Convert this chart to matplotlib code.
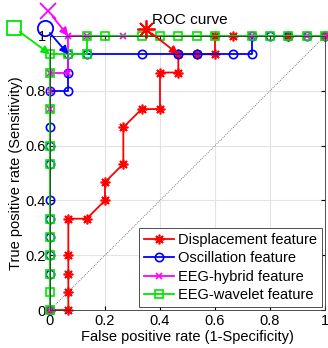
import numpy as np
import matplotlib.pyplot as plt

plt.rcParams['font.family'] = ['Liberation Sans', 'DejaVu Sans']

n = 15.0

# ROC points (counts out of 15 negatives / 15 positives)
disp_fp = [0, 1, 1, 1, 1, 1, 2, 3, 3, 4, 4, 5, 6, 6, 7, 7, 8, 9, 9, 10, 13, 15]
disp_tp = [0, 0, 1, 2, 3, 5, 5, 6, 7, 8, 10, 11, 11, 13, 13, 14, 14, 14, 15, 15, 15, 15]

osc_fp = [0, 0, 0, 0, 0, 0, 0, 0, 0, 0, 1, 1, 1, 2, 5, 7, 8, 10, 11, 11, 12, 13, 14, 15]
osc_tp = [0, 2, 3, 4, 5, 6, 8, 9, 10, 12, 12, 13, 14, 14, 14, 14, 14, 14, 14, 15, 15, 15, 15, 15]

hyb_fp = [0, 0, 0, 0, 1, 1, 2, 4, 11, 14, 15]
hyb_tp = [0, 11, 12, 13, 13, 15, 15, 15, 15, 15, 15]

wav_fp = [0, 0, 0, 0, 0, 0, 0, 0, 0, 0, 0, 1, 2, 2, 3, 5, 6, 7, 8, 9, 11, 12, 13, 14, 15]
wav_tp = [0, 1, 2, 3, 4, 5, 8, 9, 11, 13, 14, 14, 14, 15, 15, 15, 15, 15, 15, 15, 15, 15, 15, 15, 15]

labels = ['Displacement feature', 'Oscillation feature', 'EEG-hybrid feature', 'EEG-wavelet feature']
ticks = [0, 0.2, 0.4, 0.6, 0.8, 1]
tick_text = ['0', '0.2', '0.4', '0.6', '0.8', '1']

green = '#00e600'
star = (8, 2, 0)  # matlab-like asterisk

fig = plt.figure(figsize=(3.28, 3.48), dpi=100)
ax = fig.add_axes([0.1524, 0.109, 0.8384, 0.7876])

ax.grid(True, color='#e3e3e3', linewidth=0.8)
ax.set_axisbelow(True)
ax.plot([0, 1], [0, 1], linestyle=(0, (1, 1.5)), color='#555555', linewidth=0.6)

lw = 1.3
ax.plot(np.array(disp_fp) / n, np.array(disp_tp) / n, color='red', marker=star, ms=7,
        lw=lw, mew=1.2, label=labels[0], clip_on=False)
ax.plot(np.array(osc_fp) / n, np.array(osc_tp) / n, color='blue', marker='o', ms=6,
        mfc='none', lw=lw, mew=1.2, label=labels[1], clip_on=False)
ax.plot(np.array(hyb_fp) / n, np.array(hyb_tp) / n, color='magenta', marker='x', ms=5,
        lw=lw, mew=1.2, label=labels[2], clip_on=False)
ax.plot(np.array(wav_fp) / n, np.array(wav_tp) / n, color=green, marker='s', ms=5.5,
        mfc='none', lw=lw, mew=1.2, label=labels[3], clip_on=False)

# annotation arrows pointing to operating points
arr = dict(arrowstyle='-|>', lw=1.3, mutation_scale=12, shrinkA=5, shrinkB=0)
ax.annotate('', xy=(7 / n, 14 / n), xytext=(0.35, 1.025),
            arrowprops=dict(arr, color='red'), annotation_clip=False)
ax.plot(0.35, 1.025, marker=star, color='red', ms=13, mew=1.3, clip_on=False)
ax.text(0.37, 1.058, 'ROC curve', fontsize=11, va='center', ha='left')

ax.annotate('', xy=(1 / n, 14 / n), xytext=(-0.017, 1.03),
            arrowprops=dict(arr, color='blue'), annotation_clip=False)
ax.plot(-0.017, 1.03, marker='o', color='blue', mfc='none', ms=11, mew=1.3, clip_on=False)

ax.annotate('', xy=(1 / n, 1.0), xytext=(-0.006, 1.09),
            arrowprops=dict(arr, color='magenta'), annotation_clip=False)
ax.plot(-0.006, 1.09, marker='x', color='magenta', ms=11, mew=1.3, clip_on=False)

ax.annotate('', xy=(0.0, 14 / n), xytext=(-0.13, 1.03),
            arrowprops=dict(arr, color=green), annotation_clip=False)
ax.plot(-0.13, 1.03, marker='s', color=green, mfc='none', ms=10, mew=1.3, clip_on=False)

ax.set_xlim(0, 1)
ax.set_ylim(0, 1)
ax.set_xticks(ticks)
ax.set_xticklabels(tick_text)
ax.set_yticks(ticks)
ax.set_yticklabels(tick_text)
ax.tick_params(direction='in', length=3, labelsize=10.5, pad=3, top=True, right=True)
ax.set_xlabel('False positive rate (1-Specificity)', fontsize=10.5, labelpad=1)
ax.set_ylabel('True positive rate (Sensitivity)', fontsize=10.5, labelpad=2)
for s in ax.spines.values():
    s.set_color('#333333')
    s.set_linewidth(0.6)

leg = ax.legend(loc='lower right', fontsize=10.5, handlelength=2.0, handletextpad=0.3,
                borderpad=0.35, labelspacing=0.3, borderaxespad=0.2, fancybox=False,
                framealpha=1, edgecolor='#333333')
leg.get_frame().set_linewidth(0.6)

fig.savefig('out.png', dpi=100)
